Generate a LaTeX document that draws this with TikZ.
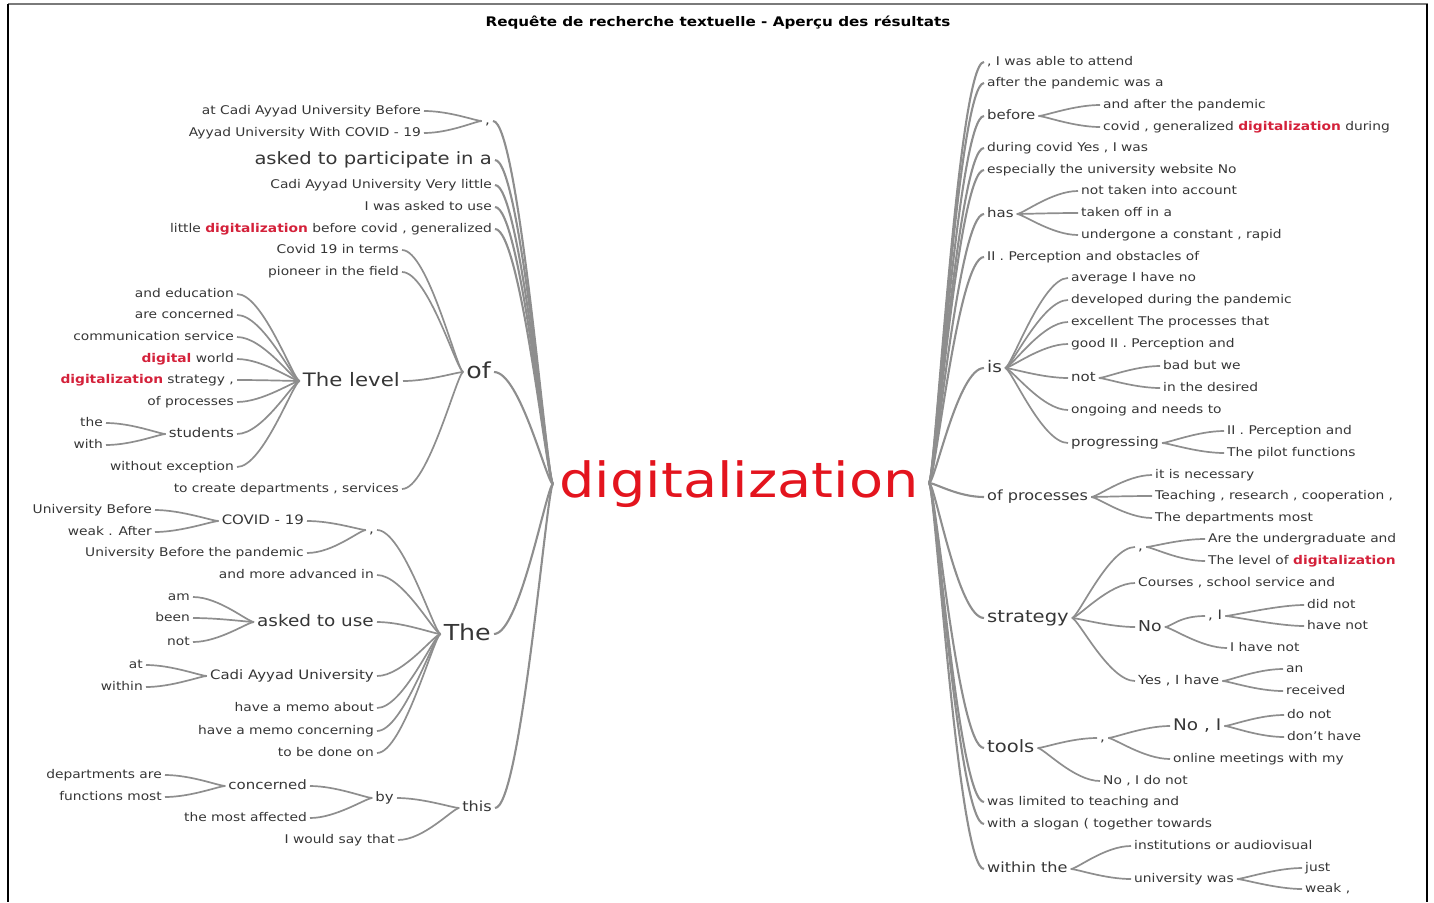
\documentclass[tikz,border=0pt]{standalone}
\usepackage{fontspec}
\setmainfont{DejaVu Sans}[FakeStretch=1.15]
\usepackage{xcolor}
\definecolor{clText}{HTML}{363636}
\definecolor{clLink}{HTML}{8E8E8E}
\definecolor{clHit}{HTML}{D4213A}
\definecolor{clRoot}{HTML}{E3141E}
\definecolor{clFrame}{HTML}{7A7A7A}
\usepackage{tikz}
\usetikzlibrary{positioning}
\newcommand{\hit}[1]{\textcolor{clHit}{\bfseries #1}}
\tikzset{
  sz/.style={font=\fontsize{#1}{#1}\selectfont, text height=#1*0.75pt, text depth=#1*0.2pt},
  leaf/.style={inner xsep=3pt, inner ysep=0pt, text=clText, sz=12},
  lword/.style={leaf, anchor=east},
  rword/.style={leaf, anchor=west},
  hub/.style={inner xsep=2pt, inner ysep=0pt, text=clRoot, sz=48.5},
  link/.style={draw=clLink, line width=1.7pt},
  lbr/.style={link, out=180, in=0, out distance=6pt, in distance=26pt},
  rbr/.style={link, out=0, in=180, out distance=6pt, in distance=26pt},
  trunk/.style={line width=2.1pt},
}

\begin{document}
\begin{tikzpicture}[x=1pt, y=-1pt]
  \useasboundingbox (0,0) rectangle (1434,902);
  % frame of the preview window
  \draw[clFrame, line width=2pt] (8,4) -- (1428,4);
  \draw[black, line width=1.6pt] (8,4) -- (8,902);
  \draw[black, line width=1.4pt] (1427,4) -- (1427,902);
  \node[font=\fontsize{13.2}{14}\selectfont\bfseries, text=black] (title) at (718,23)
    {Requête de recherche textuelle - Aperçu des résultats};

  \begin{scope}[yshift=-2pt]
  % keyword in the middle
  \node[hub] (root) at (739,482) {digitalization};
  \coordinate (rootL) at (553,482);
  \coordinate (rootR) at (929,481);

  % ---- left tree (words before the keyword)
  \node[lword, sz=13] (lc1) at (493,119) {,};
  \node[lword] (lc1a) at (424,109) {at Cadi Ayyad University Before};
  \node[lword] (lc1b) at (424,131) {Ayyad University With COVID - 19};
  \node[lword, sz=17] (lask) at (495,158) {asked to participate in a};
  \node[lword] (lcadi) at (495,183) {Cadi Ayyad University Very little};
  \node[lword] (lwas) at (495,205) {I was asked to use};
  \node[lword] (llittle) at (495,227) {little \hit{digitalization} before covid , generalized};

  \node[lword, sz=22] (lof) at (494,370) {of};
  \node[lword] (lcovid) at (402,248) {Covid 19 in terms};
  \node[lword] (lpion) at (402,270) {pioneer in the field};
  \node[lword, sz=18.5] (llevel) at (403,379) {The level};
  \node[lword] (lcreate) at (402,487) {to create departments , services};
  \node[lword] (ledu) at (237,292) {and education};
  \node[lword] (lconc) at (237,313) {are concerned};
  \node[lword] (lcomm) at (237,335) {communication service};
  \node[lword] (ldig) at (237,357) {\hit{digital} world};
  \node[lword] (lstrat) at (237,378) {\hit{digitalization} strategy ,};
  \node[lword] (lproc) at (237,400) {of processes};
  \node[lword, sz=13] (lstud) at (237,432) {students};
  \node[lword] (lthe) at (106,421) {the};
  \node[lword] (lwith) at (106,443) {with};
  \node[lword] (lwithout) at (237,465) {without exception};

  \node[lword, sz=22] (lThe) at (494,632) {The};
  \node[lword, sz=13] (lc2) at (377,528) {,};
  \node[lword, sz=13] (lcov) at (307,519) {COVID - 19};
  \node[lword] (lub) at (155,508) {University Before};
  \node[lword] (lweak) at (155,530) {weak . After};
  \node[lword] (lubp) at (307,551) {University Before the pandemic};
  \node[lword] (ladv) at (377,573) {and more advanced in};
  \node[lword, sz=16] (luse) at (377,620) {asked to use};
  \node[lword] (lam) at (193,595) {am};
  \node[lword] (lbeen) at (193,616) {been};
  \node[lword] (lnot) at (193,640) {not};
  \node[lword, sz=13] (lcau) at (377,674) {Cadi Ayyad University};
  \node[lword] (lat) at (146,663) {at};
  \node[lword] (lwithin) at (146,685) {within};
  \node[lword] (lmemo) at (377,706) {have a memo about};
  \node[lword] (lmemoc) at (377,729) {have a memo concerning};
  \node[lword] (ldone) at (377,751) {to be done on};

  \node[lword, sz=14] (lthis) at (495,806) {this};
  \node[lword, sz=13] (lby) at (397,796) {by};
  \node[lword, sz=13] (lconcd) at (310,784) {concerned};
  \node[lword] (ldep) at (165,773) {departments are};
  \node[lword] (lfun) at (165,795) {functions most};
  \node[lword] (laff) at (310,816) {the most affected};
  \node[lword] (lsay) at (398,838) {I would say that};

  % ---- right tree (words after the keyword)
  \node[rword] (rable) at (984,60) {, I was able to attend};
  \node[rword] (rafter) at (984,81) {after the pandemic was a};
  \node[rword, sz=13] (rbef) at (984,114) {before};
  \node[rword] (rbef1) at (1100,103) {and after the pandemic};
  \node[rword] (rbef2) at (1100,125) {covid , generalized \hit{digitalization} during};
  \node[rword] (rdur) at (984,146) {during covid Yes , I was};
  \node[rword] (resp) at (984,168) {especially the university website No};
  \node[rword, sz=13] (rhas) at (984,212) {has};
  \node[rword] (rhas1) at (1078,189) {not taken into account};
  \node[rword] (rhas2) at (1078,211) {taken off in a};
  \node[rword] (rhas3) at (1078,233) {undergone a constant , rapid};
  \node[rword] (rperc) at (984,255) {II . Perception and obstacles of};

  \node[rword, sz=16] (ris) at (984,366) {is};
  \node[rword] (ris1) at (1068,276) {average I have no};
  \node[rword] (ris2) at (1068,298) {developed during the pandemic};
  \node[rword] (ris3) at (1068,320) {excellent The processes that};
  \node[rword] (ris4) at (1068,342) {good II . Perception and};
  \node[rword, sz=13] (rnot) at (1068,376) {not};
  \node[rword] (rnot1) at (1160,364) {bad but we};
  \node[rword] (rnot2) at (1160,386) {in the desired};
  \node[rword] (ris6) at (1068,408) {ongoing and needs to};
  \node[rword, sz=13] (rprog) at (1068,441) {progressing};
  \node[rword] (rprog1) at (1224,429) {II . Perception and};
  \node[rword] (rprog2) at (1224,451) {The pilot functions};

  \node[rword, sz=14] (rproc) at (984,495) {of processes};
  \node[rword] (rproc1) at (1152,473) {it is necessary};
  \node[rword] (rproc2) at (1152,494) {Teaching , research , cooperation ,};
  \node[rword] (rproc3) at (1152,516) {The departments most};

  \node[rword, sz=17] (rstrat) at (984,616) {strategy};
  \node[rword, sz=13] (rsc) at (1135,545) {,};
  \node[rword] (rsc1) at (1205,537) {Are the undergraduate and};
  \node[rword] (rsc2) at (1205,559) {The level of \hit{digitalization}};
  \node[rword] (rcour) at (1135,581) {Courses , school service and};
  \node[rword, sz=15] (rno) at (1135,625) {No};
  \node[rword, sz=13] (rnoc) at (1205,614) {, I};
  \node[rword] (rnoc1) at (1304,603) {did not};
  \node[rword] (rnoc2) at (1304,624) {have not};
  \node[rword] (rno2) at (1227,646) {I have not};
  \node[rword, sz=12.5] (ryes) at (1135,679) {Yes , I have};
  \node[rword] (ryes1) at (1283,667) {an};
  \node[rword] (ryes2) at (1283,689) {received};

  \node[rword, sz=17] (rtools) at (984,746) {tools};
  \node[rword, sz=13] (rtc) at (1097,736) {,};
  \node[rword, sz=16] (rnoi) at (1170,724) {No , I};
  \node[rword] (rnoi1) at (1284,713) {do not};
  \node[rword] (rnoi2) at (1284,735) {don't have};
  \node[rword] (ronl) at (1170,757) {online meetings with my};
  \node[rword] (rnodo) at (1100,779) {No , I do not};
  \node[rword] (rlim) at (984,800) {was limited to teaching and};
  \node[rword] (rslog) at (984,822) {with a slogan ( together towards};
  \node[rword, sz=14] (rwithin) at (984,867) {within the};
  \node[rword] (rinst) at (1131,844) {institutions or audiovisual};
  \node[rword] (runi) at (1131,877) {university was};
  \node[rword] (rjust) at (1302,866) {just};
  \node[rword] (rweak) at (1302,887) {weak ,};

  % ---- branches
  \foreach \n in {lc1,lask,lcadi,lwas,llittle,lof,lThe,lthis}
    \draw[lbr, trunk] (rootL) to (\n.east);
  \foreach \p/\c in {lc1/lc1a, lc1/lc1b, lof/lcovid, lof/lpion, lof/llevel, lof/lcreate,
      llevel/ledu, llevel/lconc, llevel/lcomm, llevel/ldig, llevel/lstrat, llevel/lproc,
      llevel/lstud, llevel/lwithout, lstud/lthe, lstud/lwith,
      lThe/lc2, lThe/ladv, lThe/luse, lThe/lcau, lThe/lmemo, lThe/lmemoc, lThe/ldone,
      lc2/lcov, lc2/lubp, lcov/lub, lcov/lweak, luse/lam, luse/lbeen, luse/lnot,
      lcau/lat, lcau/lwithin, lthis/lby, lthis/lsay, lby/lconcd, lby/laff,
      lconcd/ldep, lconcd/lfun}
    \draw[lbr] (\p.west) to (\c.east);

  \foreach \n in {rable,rafter,rbef,rdur,resp,rhas,rperc,ris,rproc,rstrat,rtools,rlim,rslog,rwithin}
    \draw[rbr, trunk] (rootR) to (\n.west);
  \foreach \p/\c in {rbef/rbef1, rbef/rbef2, rhas/rhas1, rhas/rhas2, rhas/rhas3,
      ris/ris1, ris/ris2, ris/ris3, ris/ris4, ris/rnot, ris/ris6, ris/rprog,
      rnot/rnot1, rnot/rnot2, rprog/rprog1, rprog/rprog2,
      rproc/rproc1, rproc/rproc2, rproc/rproc3,
      rstrat/rsc, rstrat/rcour, rstrat/rno, rstrat/ryes, rsc/rsc1, rsc/rsc2,
      rno/rnoc, rno/rno2, rnoc/rnoc1, rnoc/rnoc2, ryes/ryes1, ryes/ryes2,
      rtools/rtc, rtools/rnodo, rtc/rnoi, rtc/ronl, rnoi/rnoi1, rnoi/rnoi2,
      rwithin/rinst, rwithin/runi, runi/rjust, runi/rweak}
    \draw[rbr] (\p.east) to (\c.west);
  \end{scope}
\end{tikzpicture}
\end{document}
